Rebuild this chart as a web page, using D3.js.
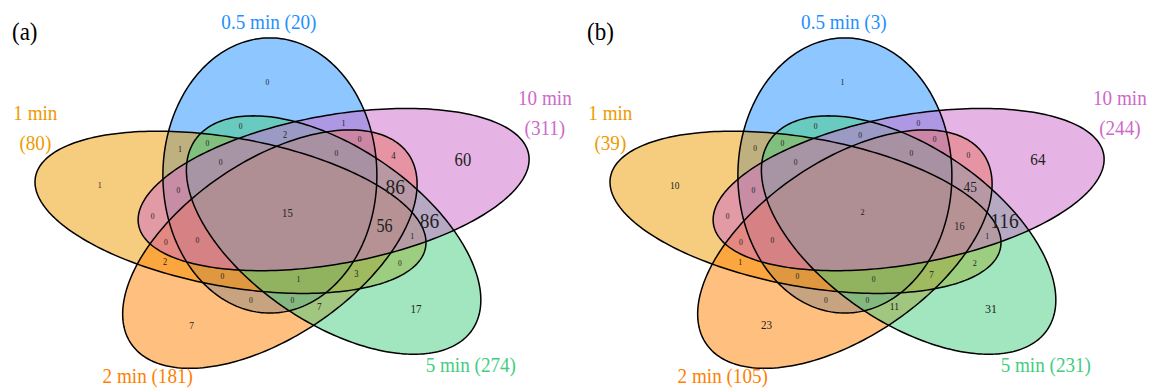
<!DOCTYPE html>
<html>
<head>
<meta charset="utf-8">
<script src="https://cdn.jsdelivr.net/npm/d3@7"></script>
<style>
  html, body { margin: 0; padding: 0; background: #fff; }
  svg { display: block; }
  text { font-family: "Liberation Serif", "Times New Roman", serif; }
</style>
</head>
<body>
<svg id="chart" width="1151" height="389"></svg>
<script>
// ---- data -------------------------------------------------------------
// Sets, in drawing order (index 0..4)
const setNames  = ["0.5 min", "1 min", "2 min", "5 min", "10 min"];
const setColors = ["#1E90FF", "#EE9A00", "#FF7F00", "#43CD80", "#CD69C9"];
const panelTags = ["(a)", "(b)"];
const totalsA = [20, 80, 181, 274, 311];
const totalsB = [3, 39, 105, 231, 244];

// Each region is named by the indices of the sets it lies in
const regionKeys = [
  "0", "1", "2", "3", "4",
  "01", "12", "23", "34", "04",
  "03", "14", "02", "13", "24",
  "013", "124", "023", "134", "024",
  "034", "014", "012", "123", "234",
  "0134", "0124", "0123", "1234", "0234",
  "01234"
];
const countsA = [0, 1, 7, 17, 60,  1, 2, 7, 86, 1,  0, 0, 0, 0, 4,  0, 0, 0, 1, 0,  2, 0, 0, 3, 86,  0, 0, 1, 56, 0,  15];
const countsB = [1, 10, 23, 31, 64,  0, 1, 11, 116, 0,  0, 0, 0, 2, 0,  0, 0, 0, 1, 0,  0, 0, 0, 7, 45,  0, 0, 0, 16, 0,  2];

// ---- layout -----------------------------------------------------------
const W = 1151, H = 389;
const svg = d3.select("#chart");
svg.append("rect").attr("width", W).attr("height", H).attr("fill", "#fff");

const rad = deg => deg * Math.PI / 180;
// ellipse geometry in diagram units
const MINOR = 1.07, MAJOR = 2.026, OFFSET = 0.57, TWIST = -18;
const phi = s => 108 + 72 * s;           // direction of ellipse s from the centre
const ASPECT = 0.679;                    // vertical squeeze of the drawing
const TEXT_SQUEEZE = 0.89;               // glyphs are drawn slightly condensed

// where each kind of region carries its count (relative to a base set s)
const templates = [
  { sets: [0],          da: -12,   r: 1.92  },
  { sets: [0, 1],       da: 30.9,  r: 1.426 },
  { sets: [0, 3],       da: 2.3,   r: 1.35  },
  { sets: [0, 1, 3],    da: 20.2,  r: 1.296 },
  { sets: [0, 3, 4],    da: -16.8, r: 1.14  },
  { sets: [0, 1, 3, 4], da: 24.4,  r: 0.99  }
];

function regionAnchor(key) {
  const members = key.split("").map(Number).sort().join("");
  if (members.length === 5) return [0, 0];
  for (const t of templates) {
    if (t.sets.length !== members.length) continue;
    for (let s = 0; s < 5; s++) {
      const m = t.sets.map(o => (s + o) % 5).sort().join("");
      if (m === members) {
        const a = rad(phi(s) + t.da);
        return [t.r * Math.cos(a), t.r * Math.sin(a)];
      }
    }
  }
  return [0, 0];
}

// category label placement
const catAngle = [93.8, 153.8, 239.9, 309.2, 29.6];
const catDist  = [2.81, 2.81, 2.786, 2.90, 2.96];
const catWrap  = [false, true, false, false, true];

function ellipsePoints(s) {
  const th = rad(phi(s) + TWIST);
  const cx = OFFSET * Math.cos(rad(phi(s)));
  const cy = OFFSET * Math.sin(rad(phi(s)));
  return d3.range(0, 240).map(i => {
    const t = 2 * Math.PI * i / 240;
    const u = MAJOR * Math.cos(t), v = MINOR * Math.sin(t);
    return [cx + u * Math.cos(th) - v * Math.sin(th),
            cy + u * Math.sin(th) + v * Math.cos(th)];
  });
}

function drawPanel(offsetX, tag, totals, counts) {
  const cx = offsetX + 287.5, cy = 212.3;
  const x = d3.scaleLinear().domain([-3, 3]).range([cx - 300, cx + 300]);
  const y = d3.scaleLinear().domain([-3, 3]).range([cy + 300 * ASPECT, cy - 300 * ASPECT]);
  const line = d3.line().x(d => x(d[0])).y(d => y(d[1])).curve(d3.curveLinearClosed);
  // count labels grow with their value, relative to the panel's largest count
  const fontSize = d3.scalePow().exponent(0.75).domain([0, d3.max(counts)]).range([8.5, 21.8]);

  const g = svg.append("g");
  const shapes = setNames.map((_, s) => ellipsePoints(s));

  g.selectAll("path.fill").data(shapes).join("path")
    .attr("class", "fill")
    .attr("d", line)
    .attr("fill", (d, i) => setColors[i])
    .attr("fill-opacity", 0.5)
    .attr("stroke", "none");

  g.selectAll("path.edge").data(shapes).join("path")
    .attr("class", "edge")
    .attr("d", line)
    .attr("fill", "none")
    .attr("stroke", "#000")
    .attr("stroke-width", 1.5);

  const regions = regionKeys.map((k, i) => ({ key: k, value: counts[i], pos: regionAnchor(k) }));
  g.selectAll("text.count").data(regions).join("text")
    .attr("class", "count")
    .attr("transform", d => `translate(${x(d.pos[0])},${y(d.pos[1])}) scale(${TEXT_SQUEEZE},1)`)
    .attr("text-anchor", "middle")
    .attr("dominant-baseline", "central")
    .attr("font-size", d => fontSize(d.value))
    .attr("fill", "#222")
    .text(d => d.value);

  setNames.forEach((name, s) => {
    const a = rad(catAngle[s]);
    const px = x(catDist[s] * Math.cos(a)), py = y(catDist[s] * Math.sin(a));
    const t = g.append("text")
      .attr("transform", `translate(${px},${py}) scale(${TEXT_SQUEEZE},1)`)
      .attr("text-anchor", "middle")
      .attr("dominant-baseline", "central")
      .attr("font-size", 21.5)
      .attr("fill", setColors[s]);
    if (catWrap[s]) {
      t.append("tspan").attr("x", 0).attr("y", -15).text(name);
      t.append("tspan").attr("x", 0).attr("y", 15).text(`(${totals[s]})`);
    } else {
      t.text(`${name} (${totals[s]})`);
    }
  });

  g.append("text")
    .attr("transform", `translate(${offsetX + 12},31.5) scale(0.92,1)`)
    .attr("dominant-baseline", "central")
    .attr("font-size", 25)
    .attr("fill", "#000")
    .text(tag);
}

drawPanel(0, panelTags[0], totalsA, countsA);
drawPanel(575, panelTags[1], totalsB, countsB);
</script>
</body>
</html>
